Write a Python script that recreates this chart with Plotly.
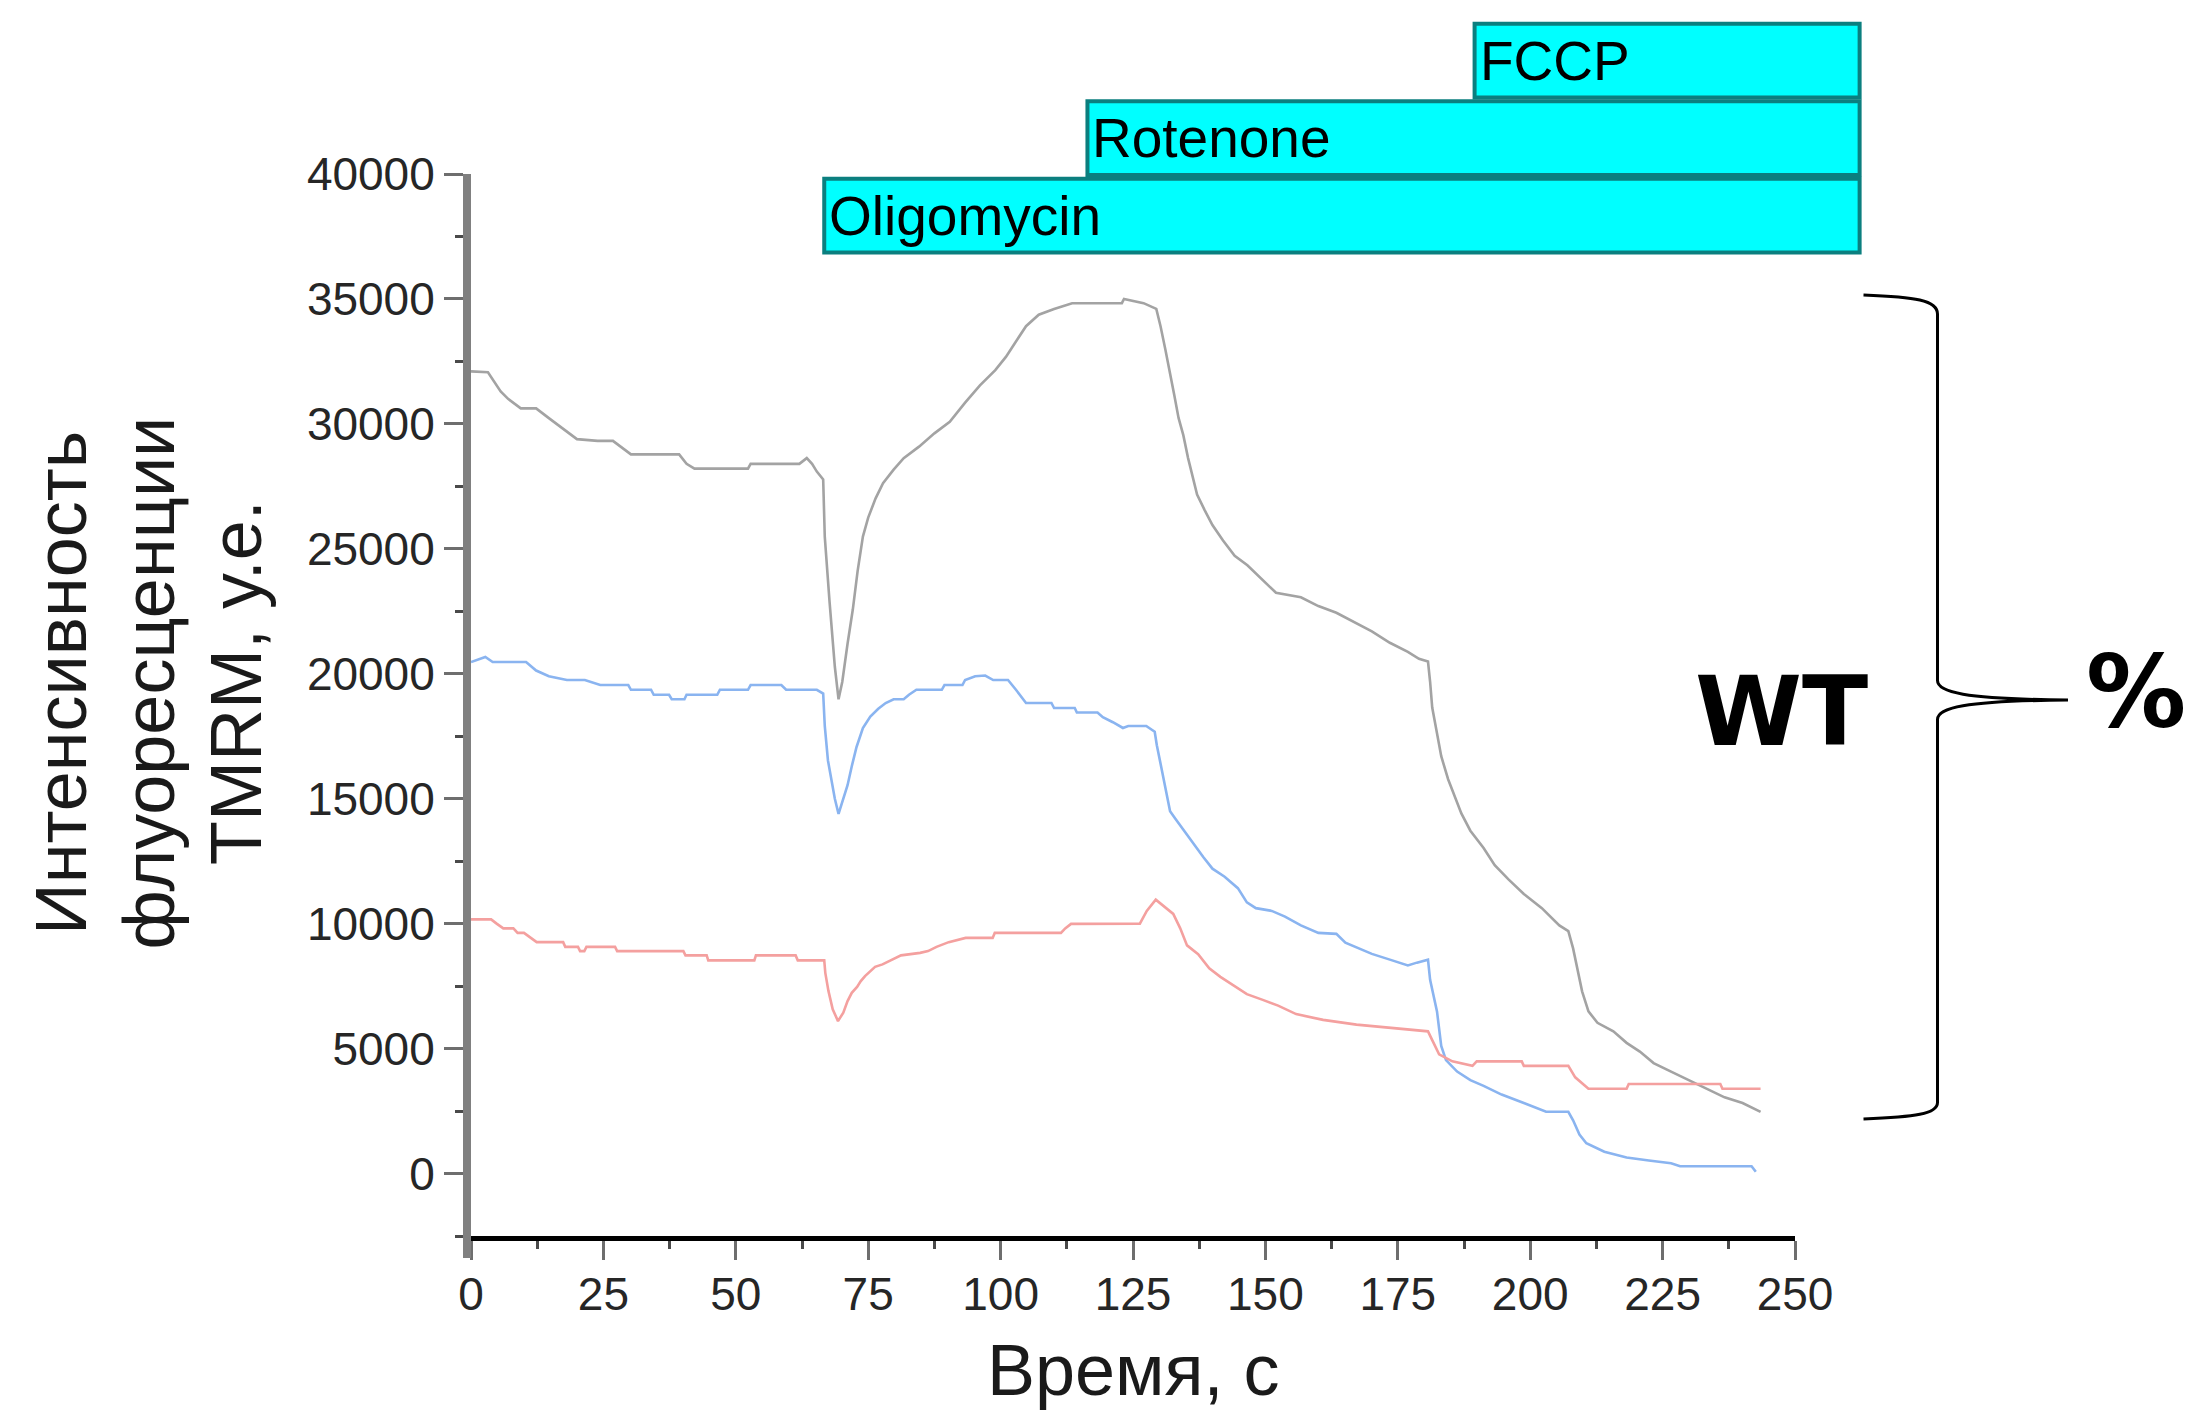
import plotly.graph_objects as go

# TMRM fluorescence traces (time in s, intensity in a.u.)
gray_t = [0, 3.2, 5.6, 7.0, 9.4, 12.3, 14.7, 17.1, 20.0, 23.9, 26.8, 30.2, 39.3, 40.7, 42.2,
          52.3, 52.8, 62.0, 63.4, 64.4, 65.3, 66.5, 66.8, 67.7, 68.7, 69.4, 70.1, 71.1, 72.1,
          73.0, 74.0, 75.0, 76.4, 77.8, 79.8, 81.7, 84.6, 87.5, 90.4, 93.3, 96.1, 99.0, 101.0,
          102.9, 104.8, 107.2, 110.1, 113.5, 122.9, 123.3, 127.0, 129.4, 130.2, 131.1, 132.0,
          132.8, 133.6, 134.5, 135.4, 136.2, 137.1, 138.5, 140.0, 142.0, 144.2, 146.6, 148.4,
          150.3, 152.0, 156.7, 160.0, 163.4, 166.8, 170.1, 173.5, 176.9, 179.0, 180.7, 181.1,
          181.5, 182.4, 183.2, 184.5, 185.7, 187.0, 188.7, 191.2, 193.3, 195.9, 198.8, 202.2,
          205.5, 207.2, 208.1, 208.9, 209.8, 211.0, 212.7, 215.7, 218.2, 220.7, 223.3, 226.6,
          230.0, 233.4, 236.7, 240.1, 243.5]
gray_v = [32100, 32070, 31300, 31000, 30620, 30620, 30230, 29850, 29390, 29320, 29320, 28780,
          28780, 28400, 28210, 28210, 28400, 28400, 28630, 28400, 28090, 27780, 25490, 22890,
          20280, 18980, 19670, 21200, 22580, 24110, 25490, 26250, 27020, 27630, 28170, 28630,
          29090, 29620, 30080, 30850, 31540, 32150, 32680, 33300, 33910, 34370, 34600, 34830,
          34830, 35000, 34830, 34600, 33910, 32990, 32070, 31150, 30240, 29550, 28630, 27940,
          27170, 26560, 25950, 25330, 24720, 24340, 23960, 23580, 23240, 23060, 22710, 22440,
          22050, 21700, 21240, 20880, 20600, 20490, 19680, 18650, 17620, 16700, 15780, 15090,
          14410, 13720, 13030, 12340, 11770, 11190, 10620, 9930, 9700, 9010, 8210, 7290, 6490,
          6030, 5690, 5230, 4880, 4420, 4080, 3740, 3390, 3050, 2820, 2470]

blue_t = [0, 2.7, 4.1, 10.4, 12.3, 14.7, 18.1, 21.5, 24.4, 29.7, 30.2, 34.0, 34.5, 37.4, 37.9,
          40.3, 40.7, 46.5, 47.0, 52.3, 52.8, 58.6, 59.5, 65.3, 66.5, 66.8, 67.4, 68.7, 69.4,
          70.1, 71.1, 71.9, 72.8, 74.0, 75.4, 76.9, 78.3, 79.8, 81.7, 82.7, 84.1, 88.9, 89.4,
          92.8, 93.3, 95.2, 97.1, 98.6, 101.4, 102.9, 104.8, 109.6, 110.1, 114.0, 114.4, 118.3,
          119.3, 121.2, 123.1, 124.1, 127.5, 129.1, 129.5, 130.3, 131.2, 132.0, 133.0, 134.7,
          136.5, 138.3, 140.0, 142.3, 144.8, 146.5, 148.2, 151.2, 153.7, 156.7, 160.0, 163.4,
          165.1, 167.6, 170.1, 173.5, 176.9, 178.6, 180.7, 181.1, 182.4, 183.2, 184.1, 186.2,
          188.7, 191.2, 194.6, 198.8, 203.0, 207.2, 208.1, 209.3, 210.6, 214.0, 218.2, 222.4,
          226.6, 228.3, 241.8, 242.6]
blue_v = [20470, 20670, 20470, 20470, 20130, 19900, 19750, 19750, 19550, 19550, 19360, 19360,
          19160, 19160, 18980, 18980, 19160, 19160, 19360, 19360, 19550, 19550, 19360, 19360,
          19210, 17910, 16530, 15000, 14390, 14850, 15540, 16300, 17070, 17830, 18290, 18600,
          18830, 18980, 18980, 19160, 19360, 19360, 19550, 19550, 19750, 19900, 19930, 19750,
          19750, 19360, 18830, 18830, 18630, 18630, 18450, 18450, 18260, 18060, 17830, 17910,
          17910, 17680, 17140, 16300, 15400, 14500, 14200, 13710, 13150, 12660, 12200, 11880,
          11420, 10850, 10620, 10510, 10280, 9930, 9630, 9590, 9240, 9010, 8790, 8560, 8330,
          8440, 8560, 7750, 6490, 5110, 4540, 4080, 3740, 3510, 3160, 2820, 2470, 2470, 2130,
          1560, 1210, 870, 640, 520, 410, 290, 290, 70]

red_t = [0, 3.8, 4.9, 6.1, 8.0, 8.8, 10.0, 11.2, 12.4, 17.4, 17.8, 20.2, 20.6, 21.4, 21.8, 27.2,
         27.6, 40.1, 40.5, 44.5, 44.8, 53.5, 53.8, 61.3, 61.7, 66.7, 66.9, 67.5, 68.3, 69.3, 70.3,
         71.1, 71.9, 72.9, 73.6, 74.4, 75.4, 76.3, 77.7, 79.3, 81.2, 84.8, 86.3, 87.9, 90.2, 93.4,
         98.5, 98.9, 111.4, 112.2, 113.3, 126.3, 127.6, 129.3, 131.4, 132.6, 133.9, 135.2, 137.3,
         139.4, 141.5, 144.0, 146.5, 149.5, 152.4, 155.8, 160.9, 167.2, 176.1, 180.7, 181.5,
         182.8, 185.3, 189.1, 189.9, 198.4, 198.8, 207.2, 208.5, 211.0, 218.2, 218.6, 235.9,
         236.3, 243.5]
red_v = [10170, 10170, 9990, 9810, 9810, 9630, 9630, 9430, 9260, 9260, 9070, 9070, 8900, 8900,
         9070, 9070, 8900, 8900, 8730, 8730, 8530, 8530, 8730, 8730, 8530, 8530, 8030, 7300,
         6570, 6100, 6440, 6900, 7230, 7470, 7700, 7900, 8100, 8270, 8370, 8530, 8730, 8830,
         8900, 9070, 9260, 9430, 9430, 9630, 9630, 9810, 9990, 10000, 10510, 10960, 10620,
         10390, 9820, 9130, 8780, 8210, 7870, 7520, 7180, 6950, 6720, 6380, 6150, 5960, 5800,
         5690, 5340, 4770, 4490, 4310, 4490, 4490, 4310, 4310, 3850, 3390, 3390, 3580, 3580,
         3390, 3390]

# Drug additions (time of addition, s); each bar runs to the end of the recording window
treatments = ["Oligomycin", "Rotenone", "FCCP"]
treatment_start = [66.7, 116.4, 189.5]
treatment_end = 262.2

x_ticks = list(range(0, 251, 25))
y_ticks = list(range(0, 40001, 5000))

y_title_lines = ["Интенсивность", "флуоресценции", "TMRM, у.е."]
x_title = "Время, с"

W, H = 2190, 1412
ML, MR, MT, MB = 471, 395, 174, 176
X_RANGE = [0, 250]
Y_RANGE = [-2500, 40000]
PW, PH = W - ML - MR, H - MT - MB

FONT = "Liberation Sans, Arial, sans-serif"
BOLD_FONT = "DejaVu Sans, Verdana, sans-serif"


def xp(t):
    """Time value -> paper x."""
    return (t - X_RANGE[0]) / (X_RANGE[1] - X_RANGE[0])


def yp(v):
    """Intensity value -> paper y."""
    return (v - Y_RANGE[0]) / (Y_RANGE[1] - Y_RANGE[0])


def pxp(px):
    return (px - ML) / PW


def pyp(py):
    return (H - MB - py) / PH


fig = go.Figure()
for t, v, color in [(gray_t, gray_v, "#a3a3a3"),
                    (blue_t, blue_v, "#8ab4f0"),
                    (red_t, red_v, "#f4a09f")]:
    fig.add_trace(go.Scatter(x=t, y=v, mode="lines", line=dict(color=color, width=2.6),
                             showlegend=False, hoverinfo="skip"))

shapes = []
annotations = []

# Treatment bars stacked above the plot
row_h = 2950
row_gap = 150
base = 36860
for i, (name, start) in enumerate(zip(treatments, treatment_start)):
    y0 = base + i * (row_h + row_gap)
    y1 = y0 + row_h
    shapes.append(dict(type="rect", xref="paper", yref="paper",
                       x0=xp(start), x1=xp(treatment_end), y0=yp(y0), y1=yp(y1),
                       fillcolor="#00ffff", line=dict(color="#0b7f7f", width=4),
                       layer="above"))
    annotations.append(dict(xref="paper", yref="paper", x=xp(start), y=yp((y0 + y1) / 2),
                            xanchor="left", yanchor="middle", xshift=3, showarrow=False,
                            text=name, font=dict(family=FONT, size=55, color="#000000")))

# Y axis extends below the x axis down to the tick ends
shapes.append(dict(type="line", xref="paper", yref="paper", x0=pxp(467), x1=pxp(467),
                   y0=0, y1=pyp(1258), line=dict(color="#808080", width=8)))

# Curly brace grouping the traces
brace_pts = [
    ("M", [(1863.5, 295.0)]),
    ("C", [(1915.0, 297.0), (1937.5, 300.0), (1937.5, 314.0)]),
    ("L", [(1937.5, 680.6)]),
    ("C", [(1937.5, 692.0), (1962.0, 699.0), (2068.0, 700.0)]),
    ("C", [(1962.0, 701.0), (1937.5, 708.0), (1937.5, 719.5)]),
    ("L", [(1937.5, 1102.4)]),
    ("C", [(1937.5, 1114.0), (1915.0, 1117.0), (1863.5, 1119.0)]),
]
path = " ".join(cmd + " " + " ".join(f"{pxp(x):.5f},{pyp(y):.5f}" for x, y in pts)
                for cmd, pts in brace_pts)
shapes.append(dict(type="path", xref="paper", yref="paper", path=path,
                   line=dict(color="#000000", width=3)))

annotations += [
    dict(xref="paper", yref="paper", x=pxp(1781), y=pyp(711), xanchor="center",
         yanchor="middle", showarrow=False, text="<b>WT</b>",
         font=dict(family=BOLD_FONT, size=97, color="#000000")),
    dict(xref="paper", yref="paper", x=pxp(2136), y=pyp(692), xanchor="center",
         yanchor="middle", showarrow=False, text="<b>%</b>",
         font=dict(family=BOLD_FONT, size=100, color="#000000")),
    dict(xref="paper", yref="paper", x=0.5, y=pyp(1370), xanchor="center",
         yanchor="middle", showarrow=False, text=x_title,
         font=dict(family=FONT, size=72, color="#1a1a1a")),
]

# Three-line rotated y title, one annotation per line for tight line spacing
for i, line in enumerate(y_title_lines):
    annotations.append(dict(xref="paper", yref="paper", x=pxp(61 + 87.5 * i), y=pyp(683),
                            xanchor="center", yanchor="middle", showarrow=False,
                            textangle=-90, text=line,
                            font=dict(family=FONT, size=72, color="#1a1a1a")))

tick_font = dict(family=FONT, size=46, color="#262626")

fig.update_layout(
    width=W, height=H,
    margin=dict(l=ML, r=MR, t=MT, b=MB, pad=0),
    paper_bgcolor="#ffffff", plot_bgcolor="#ffffff",
    showlegend=False,
    shapes=shapes,
    annotations=annotations,
    xaxis=dict(range=X_RANGE, tickvals=x_ticks, ticktext=[str(v) for v in x_ticks],
               showgrid=False, zeroline=False, showline=True, linecolor="#000000",
               linewidth=5, ticks="outside", ticklen=19, tickwidth=3, tickcolor="#6e6e6e",
               tickfont=tick_font, ticklabelstandoff=-5,
               minor=dict(tickvals=[v + 12.5 for v in x_ticks[:-1]], ticks="outside",
                          ticklen=8, tickwidth=3, tickcolor="#4a4a4a", showgrid=False)),
    yaxis=dict(range=Y_RANGE, tickvals=y_ticks, ticktext=[str(v) for v in y_ticks],
               showgrid=False, zeroline=False, showline=True, linecolor="#808080",
               linewidth=8, ticks="outside", ticklen=19, tickwidth=3, tickcolor="#6e6e6e",
               tickfont=tick_font,
               minor=dict(tickvals=[v + 2500 for v in y_ticks[:-1]] + [-2500],
                          ticks="outside", ticklen=8, tickwidth=3, tickcolor="#4a4a4a",
                          showgrid=False)),
)

fig.write_html("out.html")
